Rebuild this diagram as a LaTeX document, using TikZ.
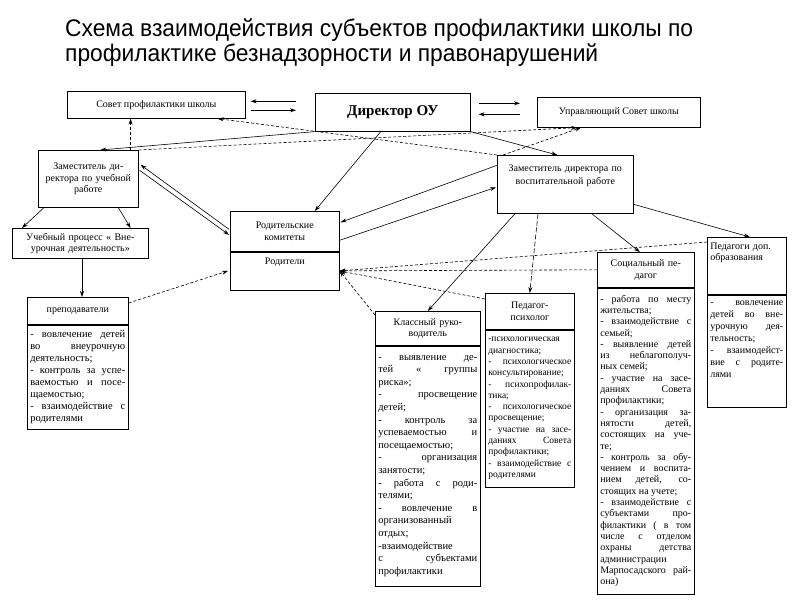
\documentclass[tikz,border=0pt]{standalone}
\usepackage{fontspec}
\usepackage{graphicx}
\setmainfont{Liberation Serif}
\newfontfamily\titlefont{Liberation Sans}
\usetikzlibrary{calc, positioning, arrows.meta}
\hbadness=10000
\tolerance=10000
\hyphenpenalty=10000

\begin{document}
\begin{tikzpicture}[x=1pt, y=1pt, node distance=0pt,
    box/.style = {draw, line width=0.6pt, inner sep=3pt, align=center,
                  font=\fontsize{10}{11.5}\selectfont},
    hd/.style  = {box, anchor=north west},
    bd/.style 2 args = {box, align=justify, font=\fontsize{#1}{#2}\selectfont},
    con/.style = {line width=0.6pt, -{Stealth[length=6pt, width=4pt]}},
    dcon/.style = {con, dash pattern=on 3pt off 2pt} ]

\useasboundingbox (0,0) rectangle (800,-600);

\node[anchor=north west, inner sep=0pt, align=left,
      font=\titlefont\fontsize{24}{25}\selectfont] (title) at (65,-18)
{\scalebox{0.95}[1]{Схема взаимодействия субъектов профилактики школы по}\\
 \scalebox{0.95}[1]{профилактике безнадзорности и правонарушений}};

% top row
\node[hd, minimum width=178pt, minimum height=27pt] (sov) at (67,-91) {Совет профилактики школы};
\node[hd, minimum width=155pt, minimum height=38pt,
      font=\bfseries\fontsize{15}{17}\selectfont] (dir) at (315,-93) {Директор ОУ};
\node[hd, minimum width=163pt, minimum height=30pt] (upr) at (537,-97) {Управляющий Совет школы};

% deputies
\node[hd, text width=94pt, minimum height=57pt] (zur) at (38,-150)
  {Заместитель ди-\\ректора по учебной\\работе};
\node[hd, text width=130pt, text height=13pt, text depth=39pt,
      font=\fontsize{10}{13}\selectfont] (zvr) at (497,-155)
  {Заместитель директора по\\воспитательной работе};

\node[hd, text width=130pt, minimum height=30pt] (uch) at (12,-228)
  {Учебный процесс « Вне-\\урочная деятельность»};

\node[hd, text width=95pt, minimum height=27pt] (preph) at (27,-297) {преподаватели};
\node[bd={10.5}{11.9}, text width=95pt, minimum height=104pt, below=of preph] (prepb)
  {- вовлечение детей\linebreak во внеурочную\linebreak деятельность;\\
   - контроль за успе-\linebreak ваемостью и посе-\linebreak щаемостью;\\
   - взаимодействие с\linebreak родителями};

\node[hd, text width=103pt, minimum height=40pt] (rk) at (230,-211) {Родительские\\комитеты};
\node[box, text width=103pt, text height=10pt, text depth=22pt, below=of rk] (rod) {Родители};

% staff
\node[hd, text width=99pt, minimum height=34pt] (klassh) at (375,-311) {Классный руко-\\водитель};
\node[bd={10.5}{12.6}, text width=99pt, minimum height=240pt, below=of klassh] (klassb)
  {- выявление де-\linebreak тей « группы\linebreak риска»;\\
   - просвещение\linebreak детей;\\
   - контроль за\linebreak успеваемостью и\linebreak посещаемостью;\\
   - организация\linebreak занятости;\\
   - работа с роди-\linebreak телями;\\
   - вовлечение в\linebreak организованный\linebreak отдых;\\
   -взаимодействие\linebreak с субъектами\linebreak профилактики};

\node[hd, text width=83pt, minimum height=36pt] (psyh) at (485,-293) {Педагог-\\психолог};
\node[bd={9.5}{11.3}, text width=83pt, minimum height=157pt, below=of psyh] (psyb)
  {-психологическая\linebreak диагностика;\\
   - психологическое\linebreak консультирование;\\
   - психопрофилак-\linebreak тика;\\
   - психологическое\linebreak просвещение;\\
   - участие на засе-\linebreak даниях Совета\linebreak профилактики;\\
   - взаимодействие с\linebreak родителями};

\node[hd, text width=91pt, minimum height=35pt] (soch) at (597,-252) {Социальный пе-\\дагог};
\node[bd={10}{11.3}, text width=91pt, minimum height=306pt, below=of soch] (socb)
  {- работа по месту\linebreak жительства;\\
   - взаимодействие с\linebreak семьей;\\
   - выявление детей\linebreak из неблагополуч-\linebreak ных семей;\\
   - участие на засе-\linebreak даниях Совета\linebreak профилактики;\\
   - организация за-\linebreak нятости детей,\linebreak состоящих на уче-\linebreak те;\\
   - контроль за обу-\linebreak чением и воспита-\linebreak нием детей, со-\linebreak стоящих на учете;\\
   - взаимодействие с\linebreak субъектами про-\linebreak филактики ( в том\linebreak числе с отделом\linebreak
   охраны детства\linebreak администрации\linebreak Марпосадского рай-\linebreak она)};

\node[hd, align=left, text width=73pt, text height=9pt, text depth=42pt] (pedh) at (707,-237)
  {Педагоги доп.\\образования};
\node[bd={10}{12}, text width=73pt, text height=8pt, text depth=98pt, below=of pedh] (pedb)
  {- вовлечение\linebreak детей во вне-\linebreak урочную дея-\linebreak тельность;\\
   - взаимодейст-\linebreak вие с родите-\linebreak лями};

% director links
\draw[con] (dir.south west) -- ($(zur.north)+(12,0)$);
\draw[con] (dir.south east) -- ($(zvr.north)+(-8,0)$);
\draw[con] ($(dir.south)+(-12,0)$) -- ($(rk.north)+(30,0)$);
\draw[con] ($(dir.west)+(-19,11)$) -- ($(sov.east)+(5,3.5)$);
\draw[con] ($(sov.east)+(5,-5.5)$) -- ($(dir.west)+(-19,2)$);
\draw[con] ($(dir.east)+(8,9)$) -- ($(upr.west)+(-17,9)$);
\draw[con] ($(upr.west)+(-17,-2)$) -- ($(dir.east)+(8,-2)$);

% to the councils
\coordinate (zt) at ($(zur.north east)+(-8,0)$);
\draw[dcon] (zt) -- (zt |- sov.south);
\draw[dcon] (zvr.north west) -- ($(sov.south east)+(-28,0)$);
\draw[dcon] (zur.north east) -- ($(upr.south west)+(40,0)$);
\draw[dcon] ($(zvr.north west)+(6,0)$) -- ($(upr.south west)+(44,0)$);

% deputies and parents
\draw[con] ($(rk.west)+(-1,2)$) -- ($(zur.east)+(2,14)$);
\draw[con] ($(zur.east)+(1,8.5)$) -- ($(rk.west)+(-1,-3.5)$);
\draw[con] ($(zvr.west)+(0,19)$) -- ($(rk.east)+(1,9)$);
\draw[con] ($(rk.east)+(0,-9)$) -- ($(zvr.west)+(-1,-3)$);

% teaching side
\draw[con] ($(zur.south west)+(6,0)$) -- ($(uch.north west)+(10,0)$);
\draw[con] ($(zur.south)+(30,0)$) -- ($(uch.north east)+(-18,0)$);
\coordinate (ut) at ($(uch.south west)+(70,0)$);
\draw[con] (ut) -- (ut |- preph.north);
\draw[dcon] ($(preph.north east)+(0,-6)$) -- ($(rod.west)+(-2,0)$);

% educational side
\draw[con] ($(zvr.south west)+(18,0)$) -- (klassh.north);
\draw[con, dash pattern=on 5pt off 2pt] ($(zvr.south west)+(41,0)$) -- (psyh.north);
\draw[con] ($(zvr.south east)+(-42,0)$) -- ($(soch.north)+(-6,0)$);
\draw[con] ($(zvr.east)+(0,-20)$) -- ($(pedh.north)+(3,0)$);

\draw[dcon] ($(pedh.north west)+(0,-5)$) -- (rod.east);
\draw[dcon] (soch.west) -- (rod.east);
\draw[dcon] ($(psyh.north west)+(0,-6)$) -- (rod.east);
\draw[dcon] ($(klassh.north west)+(0,-4)$) -- (rod.east);
\end{tikzpicture}
\end{document}
